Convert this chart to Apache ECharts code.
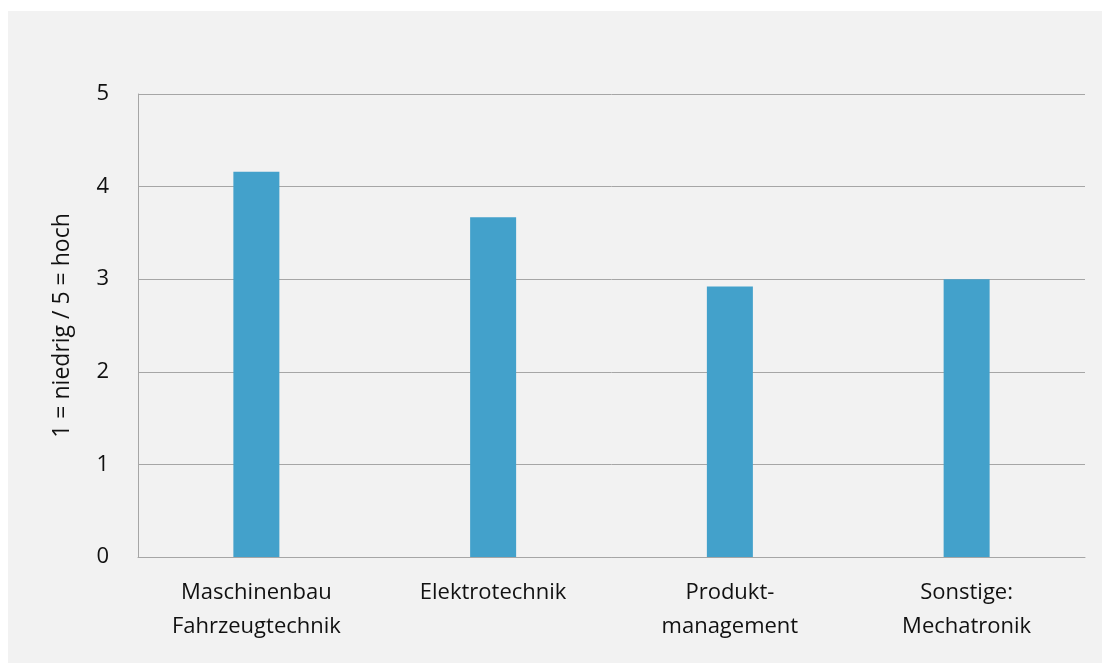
<!DOCTYPE html>
<html>
<head>
<meta charset="utf-8">
<script src="https://cdn.jsdelivr.net/npm/echarts@6/dist/echarts.min.js"></script>
<style>
html,body{margin:0;padding:0;background:#ffffff;}
#c{width:1102px;height:663px;}
</style>
</head>
<body>
<div id="c"></div>
<script>
const categories = ['Maschinenbau\nFahrzeugtechnik', 'Elektrotechnik', 'Produkt-\nmanagement', 'Sonstige:\nMechatronik'];
const values = [4.16, 3.67, 2.92, 3.0];
const yTicks = [0, 1, 2, 3, 4, 5];
const yAxisName = '1 = niedrig / 5 = hoch';

const FONT = '"Open Sans", sans-serif';
const chart = echarts.init(document.getElementById('c'), null, {renderer: 'canvas'});
chart.setOption({
  backgroundColor: '#ffffff',
  animation: false,
  graphic: [{
    type: 'rect', z: -10, silent: true,
    shape: {x: 8, y: 11, width: 1094, height: 652},
    style: {fill: '#f2f2f2'}
  }],
  grid: {left: 138, right: 17, top: 94, bottom: 106, containLabel: false},
  xAxis: {
    type: 'category',
    data: categories,
    axisLine: {show: true, lineStyle: {color: '#a6a6a6', width: 1}},
    axisTick: {show: false},
    axisLabel: {color: '#111111', fontFamily: FONT, fontSize: 22, lineHeight: 34, margin: 19}
  },
  yAxis: {
    type: 'value',
    min: yTicks[0], max: yTicks[yTicks.length - 1], interval: 1,
    name: yAxisName,
    nameLocation: 'middle',
    nameGap: 64,
    nameRotate: 90,
    nameTextStyle: {color: '#111111', fontFamily: FONT, fontSize: 23},
    axisLine: {show: true, lineStyle: {color: '#a6a6a6', width: 1}},
    axisTick: {show: false},
    splitLine: {show: true, lineStyle: {color: '#a6a6a6', width: 1}},
    axisLabel: {color: '#111111', fontFamily: FONT, fontSize: 22, margin: 29, align: 'right'}
  },
  series: [{
    type: 'bar',
    data: values,
    barWidth: 46,
    itemStyle: {color: '#43a1cb'}
  }]
});
</script>
</body>
</html>
